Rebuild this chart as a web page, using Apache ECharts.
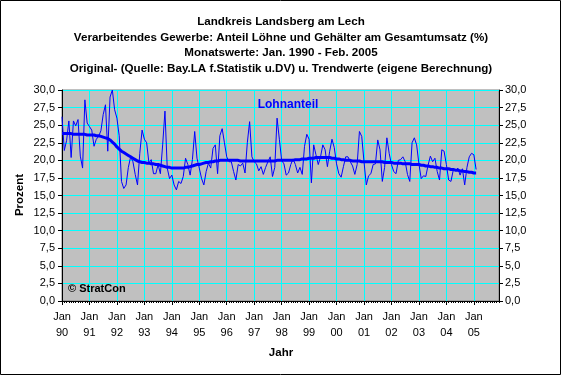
<!DOCTYPE html>
<html>
<head>
<meta charset="utf-8">
<script src="https://cdn.jsdelivr.net/npm/echarts@6/dist/echarts.min.js"></script>
<style>
html,body{margin:0;padding:0;background:#fff}
#chart{width:561px;height:375px}
</style>
</head>
<body>
<div id="chart"></div>
<script>
const titleLines = [
  'Landkreis Landsberg am Lech',
  'Verarbeitendes Gewerbe: Anteil Löhne und Gehälter am Gesamtumsatz (%)',
  'Monatswerte: Jan. 1990 - Feb. 2005',
  'Original- (Quelle: Bay.LA f.Statistik u.DV) u. Trendwerte (eigene Berechnung)'
];
const years = ['90','91','92','93','94','95','96','97','98','99','00','01','02','03','04','05'];
const monthNames = ['Jan','Feb','Mrz','Apr','Mai','Jun','Jul','Aug','Sep','Okt','Nov','Dez'];
const seriesName = 'Lohnanteil';

// monthly values Jan 1990 - Feb 2005
const lohnanteil = [
  26.2, 21.4, 22.8, 25.6, 20.4, 25.6, 24.9, 25.8, 20.6, 18.9, 28.6, 25.3,
  24.8, 24.3, 22.0, 23.0, 23.4, 24.2, 26.5, 27.9, 21.3, 29.0, 30.0, 27.2,
  26.0, 23.5, 17.0, 16.0, 16.5, 19.0, 20.5, 19.8, 18.0, 16.5, 21.0, 24.3,
  23.0, 22.5, 19.6, 20.1, 18.1, 18.1, 19.4, 18.1, 22.2, 27.0, 18.9, 17.4,
  17.9, 16.5, 15.8, 17.0, 16.7, 17.7, 20.3, 19.4, 17.9, 20.1, 24.1, 20.3,
  18.9, 17.4, 16.5, 18.4, 19.6, 18.9, 21.7, 22.2, 18.1, 23.5, 24.5, 22.5,
  20.5, 19.8, 19.8, 18.4, 17.2, 19.4, 19.2, 19.6, 18.2, 22.5, 25.5, 20.5,
  19.8, 19.5, 18.5, 19.1, 18.0, 19.0, 19.8, 20.5, 17.7, 19.0, 26.0, 23.0,
  20.0, 19.5, 17.9, 18.2, 19.4, 20.2, 19.4, 18.2, 19.0, 18.0, 22.0, 23.7,
  23.0, 16.8, 22.2, 20.8, 19.4, 20.5, 22.2, 21.5, 19.1, 21.3, 23.0, 21.8,
  19.5, 18.1, 17.6, 19.1, 20.5, 20.5, 19.8, 19.2, 18.0, 19.4, 24.1, 23.4,
  19.8, 16.5, 17.8, 18.1, 19.4, 19.5, 22.9, 21.5, 17.0, 19.0, 23.2, 21.0,
  19.4, 18.4, 18.1, 20.0, 20.1, 20.5, 19.8, 18.0, 17.0, 22.5, 23.2, 22.2,
  19.5, 17.4, 17.8, 17.7, 19.3, 20.6, 19.8, 20.3, 18.4, 17.2, 21.5, 21.3,
  19.4, 17.2, 17.0, 18.6, 18.5, 18.9, 17.9, 18.8, 16.5, 19.0, 20.5, 21.0,
  20.8, 18.7
];

const trend = [
  23.8, 23.8, 23.8, 23.8, 23.8, 23.7, 23.7, 23.7, 23.7, 23.7, 23.7, 23.6,
  23.6, 23.6, 23.6, 23.5, 23.5, 23.4, 23.3, 23.2, 23.1, 22.9, 22.6, 22.3,
  21.9, 21.6, 21.3, 21.1, 20.9, 20.7, 20.5, 20.3, 20.1, 19.9, 19.8, 19.7,
  19.7, 19.6, 19.6, 19.5, 19.5, 19.4, 19.4, 19.3, 19.2, 19.1, 19.0, 19.0,
  18.9, 18.9, 18.9, 18.9, 18.9, 18.9, 19.0, 19.0, 19.1, 19.2, 19.3, 19.4,
  19.4, 19.5, 19.6, 19.7, 19.7, 19.8, 19.8, 19.9, 19.9, 20.0, 20.0, 20.0,
  20.0, 20.0, 20.0, 20.0, 20.0, 20.0, 19.9, 19.9, 19.9, 19.9, 19.9, 19.9,
  19.9, 19.9, 19.9, 19.9, 19.9, 19.9, 19.9, 19.9, 19.9, 19.9, 20.0, 20.0,
  20.0, 20.0, 20.0, 20.0, 20.0, 20.0, 20.1, 20.1, 20.1, 20.2, 20.2, 20.2,
  20.3, 20.3, 20.3, 20.4, 20.4, 20.4, 20.4, 20.4, 20.4, 20.4, 20.3, 20.3,
  20.2, 20.2, 20.1, 20.1, 20.0, 20.0, 20.0, 19.9, 19.9, 19.9, 19.9, 19.8,
  19.8, 19.8, 19.8, 19.8, 19.8, 19.8, 19.8, 19.8, 19.8, 19.7, 19.7, 19.7,
  19.7, 19.6, 19.6, 19.6, 19.6, 19.5, 19.5, 19.5, 19.5, 19.4, 19.4, 19.4,
  19.4, 19.3, 19.3, 19.2, 19.2, 19.1, 19.1, 19.0, 19.0, 18.9, 18.9, 18.8,
  18.8, 18.8, 18.7, 18.7, 18.6, 18.6, 18.5, 18.5, 18.4, 18.4, 18.3, 18.3,
  18.2, 18.2
];

const FONT = '"Liberation Sans", Arial, sans-serif';
const cats = [];
years.forEach(y => monthNames.forEach(m => cats.push(m + '\n' + y)));

const fmtY = v => v.toFixed(1).replace('.', ',');

const graphics = [
  {type:'rect', shape:{x:0.5, y:0.5, width:560, height:374}, style:{fill:null, stroke:'#000', lineWidth:1}, z:100},
  {type:'text', x:20, y:195, rotation:Math.PI/2, z:100,
    style:{text:'Prozent', font:'bold 11.5px ' + FONT, fill:'#000', textAlign:'center', textVerticalAlign:'middle'}},
  {type:'text', x:281, y:353, z:100,
    style:{text:'Jahr', font:'bold 11.5px ' + FONT, fill:'#000', textAlign:'center', textVerticalAlign:'middle'}},
  {type:'text', x:288, y:105, z:100,
    style:{text:seriesName, font:'bold 12px ' + FONT, fill:'#0000FF', textAlign:'center', textVerticalAlign:'middle'}},
  {type:'text', x:68, y:289, z:100,
    style:{text:'© StratCon', font:'bold 11px ' + FONT, fill:'#000', textAlign:'left', textVerticalAlign:'middle'}}
];
titleLines.forEach((t, i) => graphics.push({
  type:'text', x:281, y:22 + i * 15.5, z:100,
  style:{text:t, font:'bold 11.6px ' + FONT, fill:'#000', textAlign:'center', textVerticalAlign:'middle'}
}));

const chart = echarts.init(document.getElementById('chart'), null, {renderer:'canvas'});
chart.setOption({
  animation:false,
  backgroundColor:'#fff',
  textStyle:{fontFamily:FONT},
  graphic:graphics,
  grid:{left:62, right:62, top:90, bottom:74, show:true, backgroundColor:'#C0C0C0', borderColor:'#808080', borderWidth:1, containLabel:false},
  xAxis:[
    {type:'category', data:cats, boundaryGap:false,
      axisLine:{lineStyle:{color:'#000', width:1}},
      axisTick:{interval:11, length:4, lineStyle:{color:'#000'}},
      axisLabel:{interval:11, color:'#000', fontSize:11, lineHeight:16, margin:8, fontFamily:FONT},
      splitLine:{show:true, interval:11, lineStyle:{color:'#00FFFF', width:1}}},
    {type:'category', data:cats, boundaryGap:false, position:'bottom',
      axisLine:{show:false},
      axisTick:{interval:0, length:2, lineStyle:{color:'#000'}},
      axisLabel:{show:false}, splitLine:{show:false}}
  ],
  yAxis:[
    {type:'value', min:0, max:30, interval:2.5, position:'left',
      axisLine:{show:true, lineStyle:{color:'#000'}},
      axisTick:{show:true, length:4, lineStyle:{color:'#000'}},
      axisLabel:{formatter:fmtY, color:'#000', fontSize:11, margin:7, fontFamily:FONT},
      splitLine:{show:true, lineStyle:{color:'#00FFFF', width:1}}},
    {type:'value', min:0, max:30, interval:2.5, position:'right',
      axisLine:{show:true, lineStyle:{color:'#000'}},
      axisTick:{show:true, length:4, lineStyle:{color:'#000'}},
      axisLabel:{formatter:fmtY, color:'#000', fontSize:11, margin:6, fontFamily:FONT},
      splitLine:{show:false}}
  ],
  series:[
    {name:seriesName, type:'line', data:lohnanteil, showSymbol:false, symbol:'none',
      lineStyle:{color:'#0000FF', width:1}, z:3},
    {name:'Trend', type:'line', data:trend, showSymbol:false, symbol:'none',
      lineStyle:{color:'#0000FF', width:3}, z:4}
  ]
});
</script>
</body>
</html>
